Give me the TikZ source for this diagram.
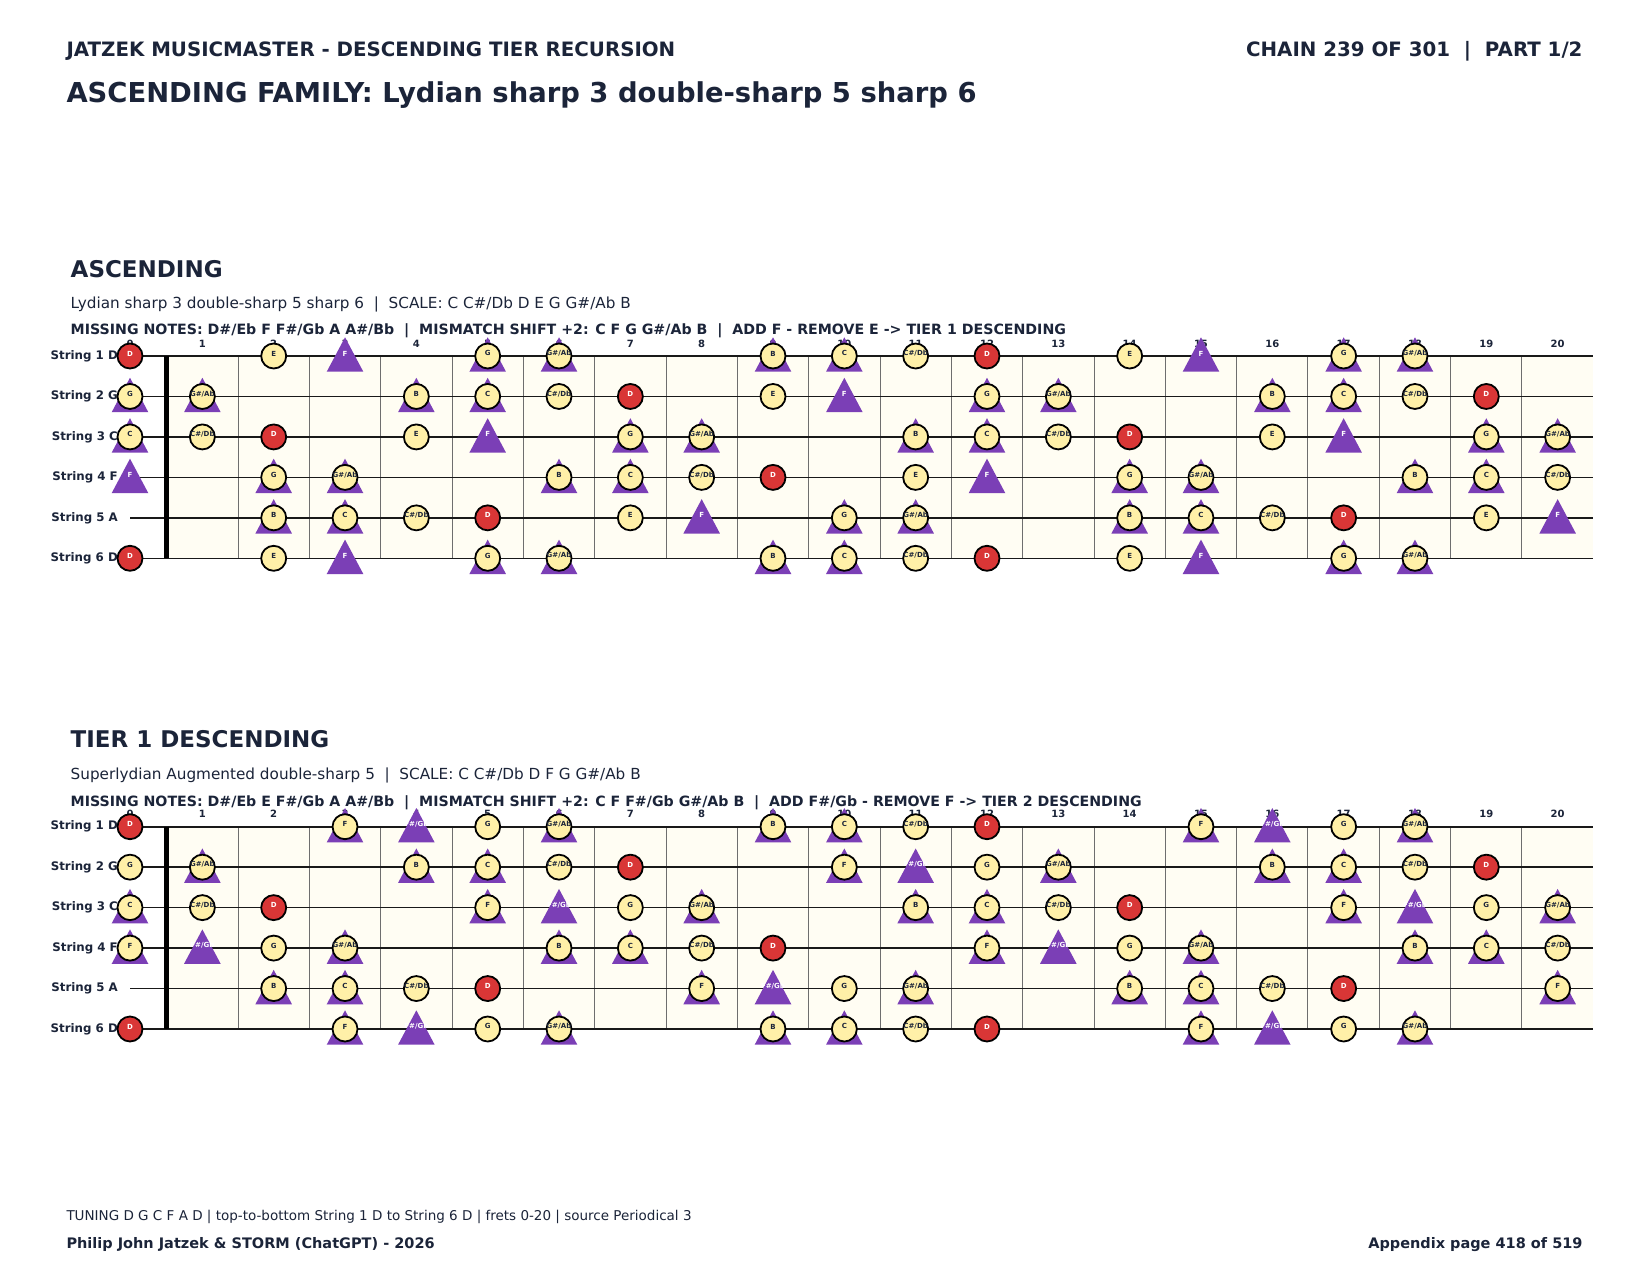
\documentclass[tikz,border=0pt]{standalone}
\usepackage{fontspec}
\setmainfont{DejaVu Sans}
\definecolor{ink}{HTML}{1B2439}
\definecolor{purp}{HTML}{7B3FB6}
\definecolor{redn}{HTML}{D93636}
\definecolor{yel}{HTML}{FFF0A8}
\definecolor{cream}{HTML}{FFFDF3}
\definecolor{fretc}{HTML}{6E6E6E}
\newcommand\fs[1]{\fontsize{#1}{#1}\selectfont}
\newcommand\notename[1]{\ifcase#1 C\or C\#/Db\or D\or D\#/Eb\or E\or F\or F\#/Gb\or G\or G\#/Ab\or A\or A\#/Bb\or B\fi}
\tikzset{
 txt/.style={inner sep=0pt, text=ink},
 fretnum/.style={txt, font=\fs{10}\bfseries},
 strlabel/.style={txt, anchor=east, font=\fs{11.8}\bfseries},
 notec/.style={circle, draw=black, line width=1.8pt, fill=yel, minimum size=25pt, inner sep=0pt, text=ink, font=\fs{7}\bfseries},
 noter/.style={notec, fill=redn, text=white},
 trilabel/.style={inner sep=0pt, text=white, font=\fs{7}\bfseries},
 tri/.style={fill=purp},
 stringline/.style={draw=black!90, line width=1.6pt},
 fretline/.style={draw=fretc, line width=1pt},
 nutline/.style={draw=black, line width=5pt},
}
\newcommand\board[3]{%
 \fill[cream] (166.7,356) rectangle (1593.3,558.3);
 \foreach \k in {1,...,19} {\draw[fretline] ({166.7+\k*71.33},356) -- ({166.7+\k*71.33},558.3);}
 \foreach \f in {0,...,20} {%
   \pgfmathsetmacro\cx{\f==0 ? 130 : 166.7+(\f-0.5)*71.33}
   \node[fretnum] (#1-fn\f) at (\cx,343.5) {\f};}
 \foreach \s/\o in {1/2,2/7,3/0,4/5,5/9,6/2} {%
   \pgfmathsetmacro\sy{356+(\s-1)*40.46}
   \node[strlabel] (#1-sl\s) at (118,\sy) {String \s\ \notename{\o}};
   \draw[stringline] (130,\sy) -- (1593.3,\sy);}
 \draw[nutline] (166.7,356) -- (166.7,558.3);
 \foreach \s/\o in {1/2,2/7,3/0,4/5,5/9,6/2} {%
   \pgfmathsetmacro\sy{356+(\s-1)*40.46}
   \foreach \f in {0,...,20} {%
     \pgfmathtruncatemacro\p{mod(\o+\f,12)}
     \pgfmathtruncatemacro\hc{{#2}[\p]}
     \pgfmathtruncatemacro\ht{{#3}[\p]}
     \pgfmathsetmacro\cx{\f==0 ? 130 : 166.7+(\f-0.5)*71.33}
     \ifnum\ht=1
       \fill[tri] (\cx-18.3,\sy+15.7) -- (\cx,\sy-18.7) -- (\cx+18.3,\sy+15.7) -- cycle;
       \ifnum\hc=0
         \node[trilabel] (#1-n\s-\f) at (\cx,\sy) {\notename{\p}};
       \fi
     \fi
     \ifnum\hc=1
       \ifnum\p=2
         \node[noter] (#1-n\s-\f) at (\cx,\sy) {\notename{\p}};
       \else
         \node[notec] (#1-n\s-\f) at (\cx,\sy) {\notename{\p}};
       \fi
     \fi
   }}
}
\begin{document}
\begin{tikzpicture}[x=1pt,y=-1pt]
\useasboundingbox (0,0) rectangle (1650,1275);
\fill[white] (0,0) rectangle (1650,1275);
\node[txt, anchor=base west, font=\fs{19.8}\bfseries] (hdr) at (66.3,56.6) {JATZEK MUSICMASTER - DESCENDING TIER RECURSION};
\node[txt, anchor=base east, font=\fs{19.8}\bfseries] (chain) at (1582.7,56.6) {CHAIN 239 OF 301~~|~~PART 1/2};
\node[txt, anchor=base west, font=\fs{27.4}\bfseries] (title) at (66.3,102.4) {ASCENDING FAMILY: Lydian sharp 3 double-sharp 5 sharp 6};

\node[txt, anchor=base west, font=\fs{23}\bfseries] (asc) at (70.5,277.4) {ASCENDING};
\node[txt, anchor=base west, font=\fs{15.25}] (ascsub) at (70.5,308.5) {Lydian sharp 3 double-sharp 5 sharp 6~~|~~SCALE: C C\#/Db D E G G\#/Ab B};
\node[txt, anchor=base west, font=\fs{14.18}\bfseries] (ascmiss) at (70.5,334.5) {MISSING NOTES: D\#/Eb F F\#/Gb A A\#/Bb~~|~~MISMATCH SHIFT +2: C F G G\#/Ab B~~|~~ADD F - REMOVE E -> TIER 1 DESCENDING};
\board{t}{1,1,1,0,1,0,0,1,1,0,0,1}{1,0,0,0,0,1,0,1,1,0,0,1}

\node[txt, anchor=base west, font=\fs{23}\bfseries] (desc) at (70.5,747) {TIER 1 DESCENDING};
\node[txt, anchor=base west, font=\fs{15.25}] (descsub) at (70.5,779) {Superlydian Augmented double-sharp 5~~|~~SCALE: C C\#/Db D F G G\#/Ab B};
\node[txt, anchor=base west, font=\fs{14.18}\bfseries] (descmiss) at (70.5,806) {MISSING NOTES: D\#/Eb E F\#/Gb A A\#/Bb~~|~~MISMATCH SHIFT +2: C F F\#/Gb G\#/Ab B~~|~~ADD F\#/Gb - REMOVE F -> TIER 2 DESCENDING};
\begin{scope}[yshift=-470.7pt]
\board{b}{1,1,1,0,0,1,0,1,1,0,0,1}{1,0,0,0,0,1,1,0,1,0,0,1}
\end{scope}

\node[txt, anchor=base west, font=\fs{13.5}] (foot1) at (66.3,1220.3) {TUNING D G C F A D | top-to-bottom String 1 D to String 6 D | frets 0-20 | source Periodical 3};
\node[txt, anchor=base west, font=\fs{14.5}\bfseries] (foot2) at (66.3,1248) {Philip John Jatzek \& STORM (ChatGPT) - 2026};
\node[txt, anchor=base east, font=\fs{14.5}\bfseries] (foot3) at (1582.7,1248) {Appendix page 418 of 519};
\end{tikzpicture}
\end{document}
